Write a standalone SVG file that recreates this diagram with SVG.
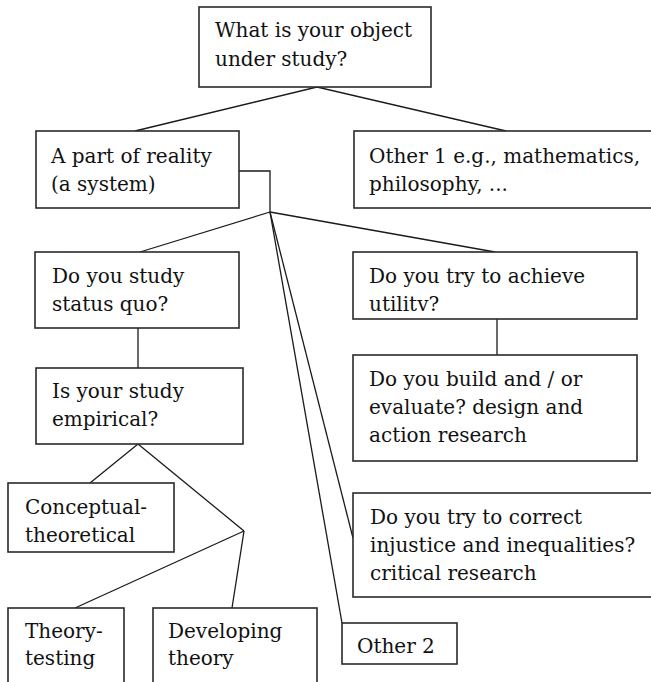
<svg xmlns="http://www.w3.org/2000/svg" width="651" height="682" viewBox="0 0 651 682">
  <style>
    .box { fill: #ffffff; stroke: #2a2a2a; stroke-width: 1.6; }
    .link { fill: none; stroke: #1a1a1a; stroke-width: 1.3; }
    text { font-family: "DejaVu Serif", "Liberation Serif", serif; font-size: 20px; fill: #111111; }
  </style>
  <rect width="651" height="682" fill="#ffffff"/>

  <!-- connectors -->
  <g id="connectors">
    <polyline class="link" points="135,131 317,87 506,131"/>
    <polyline class="link" points="239,171 270,171 270,212"/>
    <line class="link" x1="270" y1="212" x2="140" y2="252"/>
    <line class="link" x1="270" y1="212" x2="495" y2="252"/>
    <line class="link" x1="270" y1="212" x2="353" y2="538"/>
    <line class="link" x1="270" y1="212" x2="342" y2="623"/>
    <line class="link" x1="497" y1="319" x2="497" y2="355"/>
    <line class="link" x1="138" y1="328" x2="138" y2="368"/>
    <line class="link" x1="138" y1="444" x2="90" y2="483"/>
    <line class="link" x1="138" y1="444" x2="244" y2="531"/>
    <line class="link" x1="244" y1="531" x2="75" y2="608"/>
    <line class="link" x1="244" y1="531" x2="232" y2="608"/>
  </g>

  <g id="n-object">
    <rect class="box" x="199" y="7" width="232" height="80"/>
    <text x="215" y="37">What is your object</text>
    <text x="215" y="66">under study?</text>
  </g>

  <g id="n-reality">
    <rect class="box" x="36" y="131" width="203" height="77"/>
    <text x="51" y="163">A part of reality</text>
    <text x="51" y="191">(a system)</text>
  </g>

  <g id="n-other1">
    <rect class="box" x="354" y="131" width="300" height="77"/>
    <text x="369" y="163">Other 1 e.g., mathematics,</text>
    <text x="369" y="191">philosophy, ...</text>
  </g>

  <g id="n-statusquo">
    <rect class="box" x="35" y="252" width="204" height="76"/>
    <text x="52" y="283">Do you study</text>
    <text x="52" y="311">status quo?</text>
  </g>

  <g id="n-utility">
    <rect class="box" x="353" y="252" width="284" height="67"/>
    <text x="369" y="283">Do you try to achieve</text>
    <text x="369" y="311">utilitv?</text>
  </g>

  <g id="n-build">
    <rect class="box" x="353" y="355" width="284" height="106"/>
    <text x="369" y="386">Do you build and / or</text>
    <text x="369" y="414">evaluate? design and</text>
    <text x="369" y="442">action research</text>
  </g>

  <g id="n-empirical">
    <rect class="box" x="36" y="368" width="207" height="76"/>
    <text x="52" y="398">Is your study</text>
    <text x="52" y="426">empirical?</text>
  </g>

  <g id="n-conceptual">
    <rect class="box" x="8" y="483" width="166" height="69"/>
    <text x="25" y="514">Conceptual-</text>
    <text x="25" y="542">theoretical</text>
  </g>

  <g id="n-critical">
    <rect class="box" x="353" y="493" width="300" height="104"/>
    <text x="370" y="524">Do you try to correct</text>
    <text x="370" y="552">injustice and inequalities?</text>
    <text x="370" y="580">critical research</text>
  </g>

  <g id="n-theorytesting">
    <rect class="box" x="8" y="608" width="116" height="80"/>
    <text x="25" y="638">Theory-</text>
    <text x="25" y="665">testing</text>
  </g>

  <g id="n-developing">
    <rect class="box" x="153" y="608" width="164" height="80"/>
    <text x="168" y="638">Developing</text>
    <text x="168" y="665">theory</text>
  </g>

  <g id="n-other2">
    <rect class="box" x="342" y="623" width="115" height="41"/>
    <text x="357" y="653">Other 2</text>
  </g>
</svg>
